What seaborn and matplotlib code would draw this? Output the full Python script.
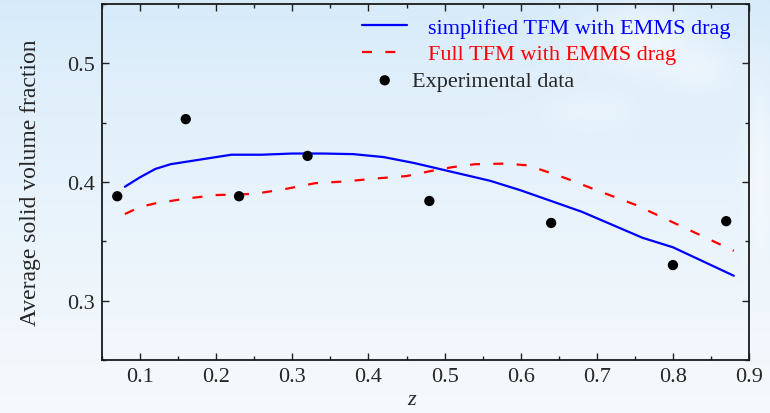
import numpy as np
import pandas as pd
import matplotlib
matplotlib.use("Agg")
import matplotlib.pyplot as plt
from matplotlib.ticker import MultipleLocator
import seaborn as sns

# Simplified two-fluid model with EMMS drag
z_simplified = [0.08, 0.10, 0.12, 0.14, 0.18, 0.22, 0.26, 0.30, 0.34, 0.38, 0.42,
                0.46, 0.50, 0.54, 0.56, 0.60, 0.64, 0.68, 0.72, 0.76, 0.80, 0.84, 0.88]
eps_simplified = [0.396, 0.404, 0.411, 0.415, 0.419, 0.423, 0.423, 0.424, 0.424, 0.4235, 0.421,
                  0.416, 0.410, 0.404, 0.401, 0.393, 0.384, 0.375, 0.364, 0.353, 0.345, 0.333, 0.321]

# Full two-fluid model with EMMS drag
z_full = [0.08, 0.10, 0.12, 0.16, 0.20, 0.25, 0.29, 0.33, 0.37, 0.41, 0.45,
          0.48, 0.51, 0.54, 0.58, 0.61, 0.66, 0.70, 0.75, 0.79, 0.84, 0.88]
eps_full = [0.373, 0.379, 0.382, 0.386, 0.389, 0.390, 0.394, 0.399, 0.4005, 0.403, 0.405,
            0.409, 0.4125, 0.415, 0.4155, 0.414, 0.403, 0.393, 0.381, 0.369, 0.354, 0.342]

# Measurements
z_exp = [0.07, 0.16, 0.23, 0.32, 0.48, 0.64, 0.80, 0.87]
eps_exp = [0.388, 0.453, 0.388, 0.422, 0.384, 0.3655, 0.330, 0.367]

label_simplified = "simplified TFM with EMMS drag"
label_full = "Full TFM with EMMS drag"
label_exp = "Experimental data"

x_ticks = [0.1, 0.2, 0.3, 0.4, 0.5, 0.6, 0.7, 0.8, 0.9]
y_ticks = [0.3, 0.4, 0.5]

df_simp = pd.DataFrame({"z": z_simplified, "eps": eps_simplified})
df_full = pd.DataFrame({"z": z_full, "eps": eps_full})
df_exp = pd.DataFrame({"z": z_exp, "eps": eps_exp})

sns.set_style("ticks")
plt.rcParams["font.family"] = ["Liberation Serif", "DejaVu Serif"]
plt.rcParams["mathtext.fontset"] = "custom"
plt.rcParams["mathtext.it"] = "Liberation Serif:italic"

fig = plt.figure(figsize=(7.7, 4.14), dpi=100)

# Sky-like backdrop: vertical gradient with a few soft clouds
bg = fig.add_axes([0, 0, 1, 1], zorder=-10)
H, W = 414, 770
yy, xx = np.mgrid[0:H, 0:W]
t = (yy / H) ** 0.8
top = np.array([0.84, 0.92, 0.98])
bot = np.array([0.965, 0.978, 0.99])
img = top[None, None, :] * (1 - t[..., None]) + bot[None, None, :] * t[..., None]
clouds = [(640, 40, 55, 35, 0.55), (700, 70, 40, 25, 0.35), (760, 170, 14, 80, 0.5),
          (590, 110, 45, 20, 0.25)]
for cx, cy, sx, sy, a in clouds:
    g = a * np.exp(-(((xx - cx) / sx) ** 2 + ((yy - cy) / sy) ** 2))
    img = img * (1 - g[..., None]) + g[..., None] * 1.0
bg.imshow(img, aspect="auto", extent=[0, 1, 0, 1], origin="upper")
bg.axis("off")

ax = fig.add_axes([0.1325, 0.128, 0.8403, 0.8599])
ax.set_facecolor("none")

sns.lineplot(data=df_simp, x="z", y="eps", ax=ax, color="#0000ff", lw=1.6,
             label=label_simplified, sort=False)
sns.lineplot(data=df_full, x="z", y="eps", ax=ax, color="#ff0000", lw=1.6,
             label=label_full, sort=False, dashes=False)
ax.lines[-1].set_dashes((4.5, 6))
sns.scatterplot(data=df_exp, x="z", y="eps", ax=ax, color="black", s=55,
                edgecolor="none", label=label_exp, zorder=5)

ax.set_xlim(0.05, 0.9)
ax.set_ylim(0.25, 0.55)
ax.set_xticks(x_ticks)
ax.set_yticks(y_ticks)
ax.set_xticklabels([f"{v:.1f}" for v in x_ticks])
ax.set_yticklabels([f"{v:.1f}" for v in y_ticks])
ax.xaxis.set_minor_locator(MultipleLocator(0.05))
ax.yaxis.set_minor_locator(MultipleLocator(0.05))
ax.tick_params(which="both", direction="in", top=True, right=True, width=1.0,
               color="#222222")
ax.tick_params(which="major", length=5, labelsize=16, pad=5)
ax.tick_params(which="minor", length=3)
for s in ax.spines.values():
    s.set_linewidth(1.3)
    s.set_color("#1a1a1a")
    s.set_visible(True)

ax.set_xlabel("$z$", fontsize=16)
ax.set_ylabel("Average solid volume fraction", fontsize=17)
ax.xaxis.set_label_coords(0.479, -0.085)
ax.yaxis.set_label_coords(-0.095, 0.5)

handles, labels = ax.get_legend_handles_labels()
leg1 = ax.legend(handles[:2], labels[:2], loc="upper left", bbox_to_anchor=(0.402, 0.963),
                 frameon=False, fontsize=16, borderpad=0, borderaxespad=0,
                 handlelength=2.03, handletextpad=0.95, labelspacing=0.27)
for txt, c in zip(leg1.get_texts(), ["#0000ff", "#ff0000"]):
    txt.set_color(c)
ax.add_artist(leg1)
leg2 = ax.legend(handles[2:], labels[2:], loc="upper left", bbox_to_anchor=(0.4266, 0.813),
                 frameon=False, fontsize=16, borderpad=0, borderaxespad=0,
                 handlelength=0.6, handletextpad=0.95)

fig.savefig("out.png", dpi=100)
